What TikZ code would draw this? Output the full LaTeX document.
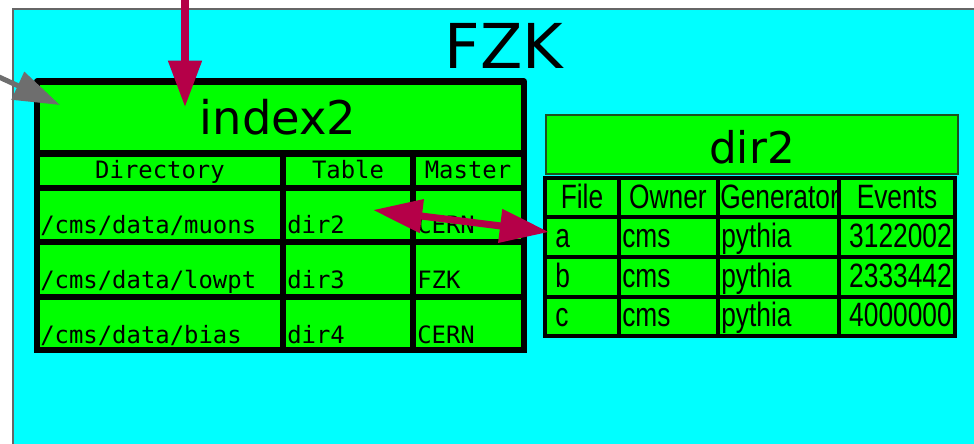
\documentclass[tikz,border=0pt]{standalone}
\usepackage{fontspec}
\setmainfont{DejaVu Sans}
\newfontfamily\codefont{DejaVu Sans Mono}
\newfontfamily\tabfont[FakeStretch=0.78]{Liberation Sans}
\usetikzlibrary{arrows.meta}

\definecolor{sitebg}{RGB}{0,255,255}
\definecolor{cellgreen}{RGB}{0,255,0}
\definecolor{linkred}{RGB}{181,0,72}
\definecolor{ptrgray}{RGB}{110,110,110}

\tikzset{
  idxcell/.style={fill=cellgreen, draw=black, line width=4.3pt},
  dircell/.style={fill=cellgreen, draw=black, line width=2.5pt},
  code/.style={font=\codefont\fontsize{17}{17}\selectfont, inner sep=0pt},
  tab/.style={font=\tabfont\fontsize{24}{24}\selectfont, inner sep=0pt},
  link/.style={linkred, line width=5pt},
}

\begin{document}
\begin{tikzpicture}[x=0.025cm, y=-0.025cm]
  \useasboundingbox (0,0) rectangle (974,443);
  \fill[white] (0,0) rectangle (974,443);

  % the site
  \fill[sitebg] (13,9) rectangle (990,460);
  \draw[black!60, line width=0.8pt] (13,460) -- (13,9) -- (990,9);
  \node[font=\fontsize{44}{44}\selectfont, anchor=base, inner sep=0pt] (site) at (504,68) {FZK};

  % index2
  \draw[idxcell, line join=round] (37,81.5) rectangle (524,153.5);
  \node[font=\fontsize{33}{33}\selectfont, anchor=base, inner sep=0pt] (index) at (278,134) {index2};
  \foreach \ya/\yb in {153.5/188, 188/242, 242/297, 297/350}
    \foreach \xa/\xb in {37/283, 283/413, 413/524}
      \draw[idxcell] (\xa,\ya) rectangle (\xb,\yb);

  \node[code, anchor=base] (hdir) at (160,178) {Directory};
  \node[code, anchor=base] (htab) at (348,178) {Table};
  \node[code, anchor=base] (hmas) at (468,178) {Master};

  \node[code, anchor=base west] (muons) at (40,233) {/cms/data/muons};
  \node[code, anchor=base west] (lowpt) at (40,288) {/cms/data/lowpt};
  \node[code, anchor=base west] (bias) at (40,343) {/cms/data/bias};
  \node[code, anchor=base west] (tabtwo) at (287,233) {dir2};
  \node[code, anchor=base west] (tabthree) at (287,288) {dir3};
  \node[code, anchor=base west] (tabfour) at (287,343) {dir4};
  \node[code, anchor=base west] (mastera) at (417,233) {CERN};
  \node[code, anchor=base west] (masterb) at (417,288) {FZK};
  \node[code, anchor=base west] (masterc) at (417,343) {CERN};

  % dir2
  \draw[fill=cellgreen, draw={rgb,255:red,30;green,80;blue,30}, line width=1.2pt] (546,115) rectangle (958,174);
  \node[font=\fontsize{31}{31}\selectfont, anchor=base, inner sep=0pt] (dirtitle) at (752,163) {dir2};
  \foreach \ya/\yb in {178/217, 217/257, 257/297, 297/336}
    \foreach \xa/\xb in {545/619, 619/718, 718/839, 839/955}
      \draw[dircell] (\xa,\ya) rectangle (\xb,\yb);

  \node[tab, anchor=base] (hfile) at (582,208) {File};
  \node[tab, anchor=base] (howner) at (668,208) {Owner};
  \node[tab, anchor=base west] (hgen) at (720,208) {Generator};
  \node[tab, anchor=base] (hevents) at (897,208) {Events};

  \node[tab, anchor=base west] (filea) at (555,247) {a};
  \node[tab, anchor=base west] (fileb) at (555,287) {b};
  \node[tab, anchor=base west] (filec) at (555,326) {c};
  \node[tab, anchor=base west] (ownera) at (622,247) {cms};
  \node[tab, anchor=base west] (ownerb) at (622,287) {cms};
  \node[tab, anchor=base west] (ownerc) at (622,326) {cms};
  \node[tab, anchor=base west] (gena) at (721,247) {pythia};
  \node[tab, anchor=base west] (genb) at (721,287) {pythia};
  \node[tab, anchor=base west] (genc) at (721,326) {pythia};
  \node[tab, anchor=base east] (eventsa) at (952,247) {3122002};
  \node[tab, anchor=base east] (eventsb) at (952,287) {2333442};
  \node[tab, anchor=base east] (eventsc) at (952,326) {4000000};

  % pointers
  \coordinate (feed) at (185,-5);
  \coordinate (idxhit) at (185,107);
  \draw[link, -{Triangle[length=33pt,width=23pt]}] (feed) -- (idxhit);

  \coordinate (caller) at (-25,66);
  \coordinate (idxside) at (60,105);
  \draw[ptrgray, line width=3.6pt, -{Triangle[length=33pt,width=21pt]}] (caller) -- (idxside);

  \coordinate (tabref) at (373,210);
  \coordinate (rowa) at (549,232);
  \draw[link, {Triangle[length=35pt,width=23pt]}-{Triangle[length=35pt,width=23pt]}] (tabref) -- (rowa);
\end{tikzpicture}
\end{document}
